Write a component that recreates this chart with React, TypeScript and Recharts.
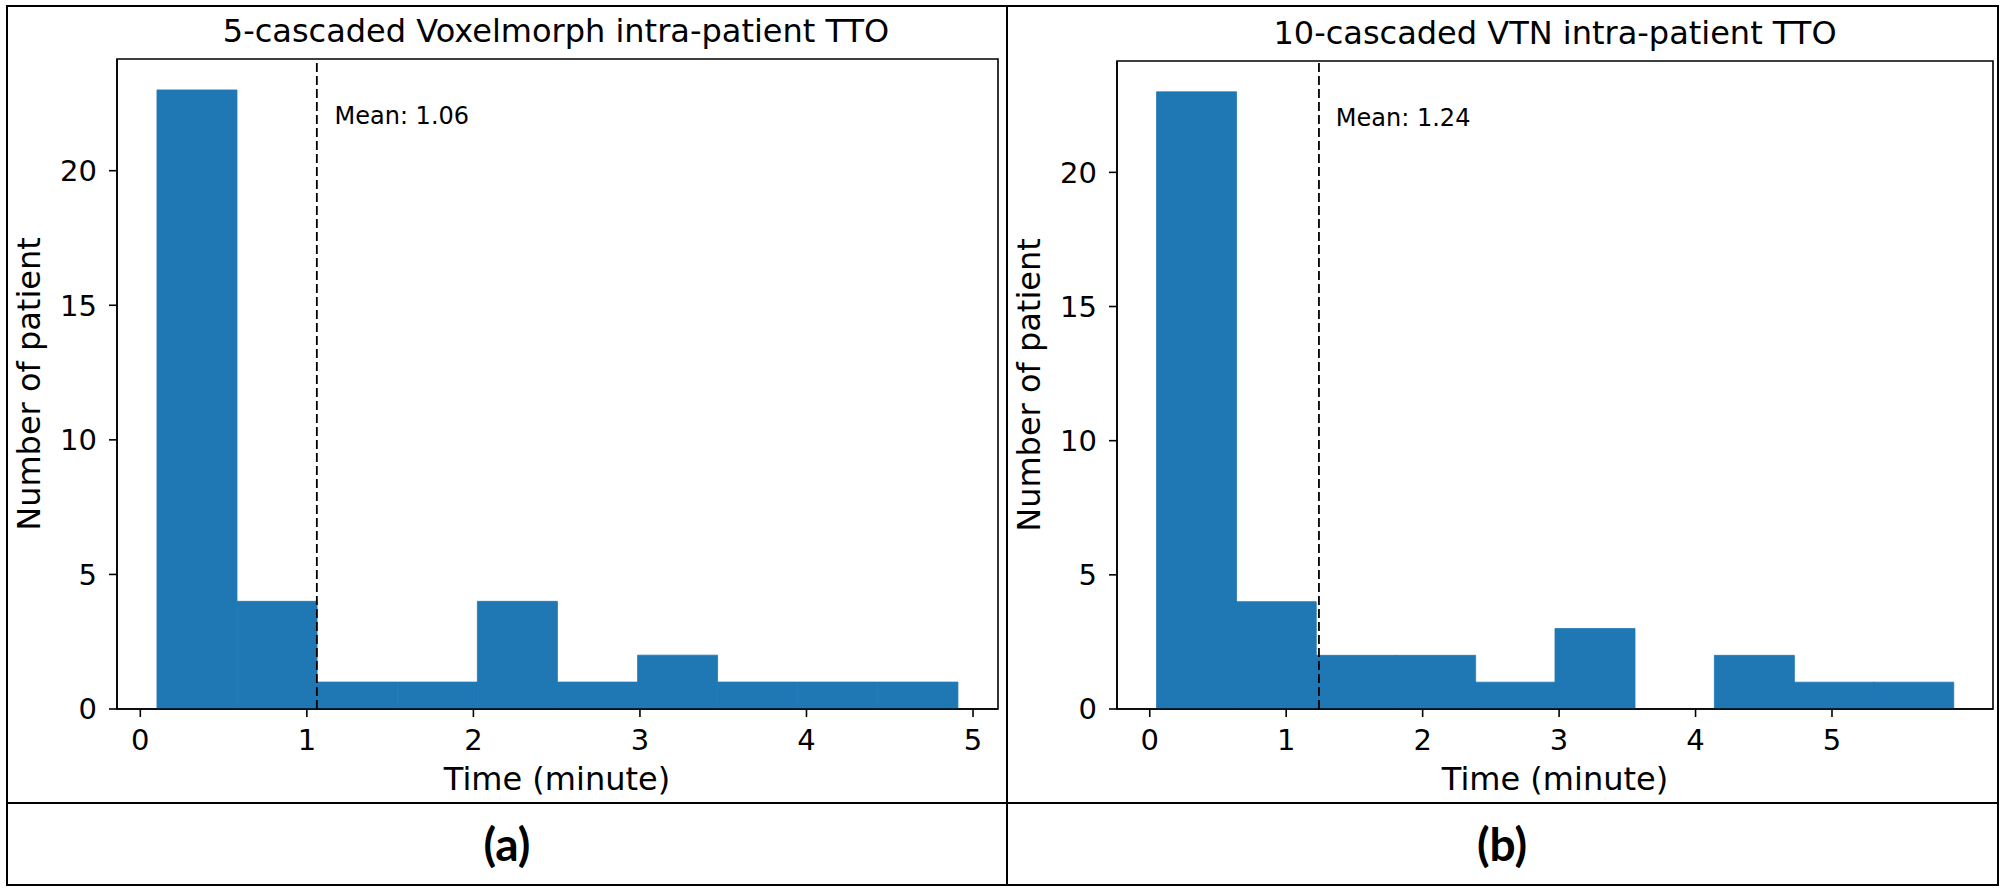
import { ComposedChart, Bar, XAxis, YAxis, ReferenceLine, ReferenceDot, ReferenceArea } from 'recharts';

const FONT = 'DejaVu Sans';
const BLUE = '#1f77b4';

// shared y axis
const Y_TICKS = [0, 5, 10, 15, 20];
const Y_MAX = 24.15;

// (a) 5-cascaded Voxelmorph
const LEFT_TITLE = '5-cascaded Voxelmorph intra-patient TTO';
const LEFT_EDGES = [0.1, 0.581, 1.062, 1.543, 2.024, 2.505, 2.986, 3.467, 3.948, 4.429, 4.91];
const LEFT_COUNTS = [23, 4, 1, 1, 4, 1, 2, 1, 1, 1];
const LEFT_MEAN = 1.06;
const LEFT_X_TICKS = [0, 1, 2, 3, 4, 5];
const LEFT_X_DOMAIN = [-0.14, 5.15];

// (b) 10-cascaded VTN
const RIGHT_TITLE = '10-cascaded VTN intra-patient TTO';
const RIGHT_EDGES = [0.05, 0.634, 1.218, 1.802, 2.386, 2.97, 3.554, 4.138, 4.722, 5.306, 5.89];
const RIGHT_COUNTS = [23, 4, 2, 2, 1, 3, 0, 2, 1, 1];
const RIGHT_MEAN = 1.24;
const RIGHT_X_TICKS = [0, 1, 2, 3, 4, 5];
const RIGHT_X_DOMAIN = [-0.24, 6.18];

const tickStyle = { fill: '#000', fontSize: 29, fontFamily: FONT };

function toBins(edges: number[], counts: number[]) {
  return counts.map((c, i) => ({ x: (edges[i] + edges[i + 1]) / 2, count: c }));
}

function Histogram({ edges, counts, mean, xTicks, xDomain, marginTop, marginRight }: any) {
  const data = toBins(edges, counts);
  const label = 'Mean: ' + mean.toFixed(2);
  return (
    <ComposedChart
      width={1005}
      height={800}
      data={data}
      barCategoryGap={0}
      barGap={0}
      margin={{ top: marginTop, right: marginRight, left: 57, bottom: 31 }}
    >
      <XAxis
        dataKey="x"
        type="number"
        domain={xDomain}
        ticks={xTicks}
        allowDataOverflow
        height={60}
        tick={tickStyle}
        tickSize={8}
        tickMargin={12}
        stroke="#000"
        strokeWidth={1.6}
      />
      <YAxis
        type="number"
        domain={[0, Y_MAX]}
        ticks={Y_TICKS}
        allowDataOverflow
        width={60}
        tick={tickStyle}
        tickSize={8}
        tickMargin={12}
        stroke="#000"
        strokeWidth={1.6}
      />
      <Bar dataKey="count" fill={BLUE} stroke={BLUE} strokeWidth={0.8} isAnimationActive={false} />
      <ReferenceLine x={mean} stroke="#000" strokeWidth={1.8} strokeDasharray="9 4" />
      <ReferenceDot
        x={mean * 1.1}
        y={Y_MAX * 0.9}
        r={0}
        ifOverflow="visible"
        shape={(p: any) => (
          <text x={p.cx} y={p.cy} fontSize={24} fontFamily={FONT} fill="#000">{label}</text>
        )}
      />
      {/* axes frame, as matplotlib draws all four spines */}
      <ReferenceArea
        x1={xDomain[0]}
        x2={xDomain[1]}
        y1={0}
        y2={Y_MAX}
        ifOverflow="visible"
        fill="none"
        fillOpacity={0}
        stroke="#000"
        strokeWidth={1.6}
        strokeOpacity={1}
      />
    </ComposedChart>
  );
}

export default function App() {
  return (
    <div style={{ position: 'absolute', left: 0, top: 0, width: 2005, height: 891, background: '#fff' }}>
      <div style={{ position: 'absolute', left: 0, top: 0 }}>
        <Histogram edges={LEFT_EDGES} counts={LEFT_COUNTS} mean={LEFT_MEAN} xTicks={LEFT_X_TICKS}
          xDomain={LEFT_X_DOMAIN} marginTop={59} marginRight={7} />
      </div>
      <div style={{ position: 'absolute', left: 1000, top: 0 }}>
        <Histogram edges={RIGHT_EDGES} counts={RIGHT_COUNTS} mean={RIGHT_MEAN} xTicks={RIGHT_X_TICKS}
          xDomain={RIGHT_X_DOMAIN} marginTop={61} marginRight={12} />
      </div>
      <svg width={2005} height={891} style={{ position: 'absolute', left: 0, top: 0, pointerEvents: 'none' }}>
        <g fill="none" stroke="#000" strokeWidth={2}>
          <rect x={7} y={6} width={1991} height={879} />
          <line x1={1007} y1={6} x2={1007} y2={885} />
          <line x1={7} y1={803} x2={1998} y2={803} />
        </g>
        <g fontFamily={FONT} fontSize={32} fill="#000" textAnchor="middle">
          <text x={556} y={42}>{LEFT_TITLE}</text>
          <text x={1555} y={44}>{RIGHT_TITLE}</text>
          <text x={557} y={790}>Time (minute)</text>
          <text x={1555} y={790}>Time (minute)</text>
          <text transform="translate(40,384) rotate(-90)">Number of patient</text>
          <text transform="translate(1040,385) rotate(-90)">Number of patient</text>
        </g>
        <g fontFamily="Lato" fontWeight={700} fontSize={46} fill="#000" textAnchor="middle">
          <text x={507} y={861}>(a)</text>
          <text x={1502} y={861}>(b)</text>
        </g>
      </svg>
    </div>
  );
}
